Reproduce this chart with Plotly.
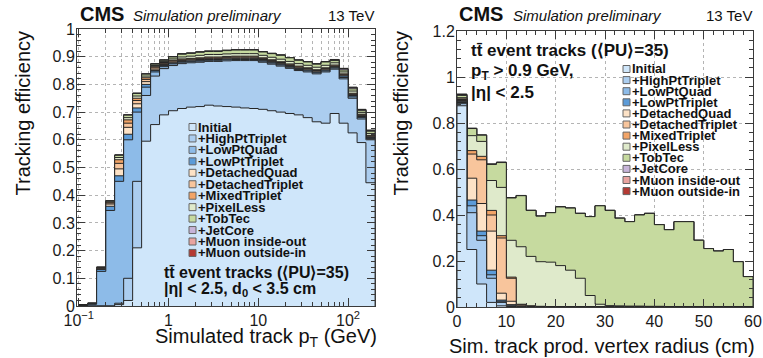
import plotly.graph_objects as go

W, H = 763, 358
FONT = "Liberation Sans, Arial, Helvetica, sans-serif"

ITERATIONS = ["Initial", "+HighPtTriplet", "+LowPtQuad", "+LowPtTriplet",
              "+DetachedQuad", "+DetachedTriplet", "+MixedTriplet", "+PixelLess",
              "+TobTec", "+JetCore", "+Muon inside-out", "+Muon outside-in"]
COLORS = ["#cfe6fa", "#abcdef", "#8dbbe8", "#5c9bd8",
          "#fde2c6", "#f8c59c", "#f2a467", "#dfeacb",
          "#c6da9f", "#c7b4d9", "#e9a4a0", "#b53a33"]

# ---------------- left panel: efficiency vs simulated pT ----------------
PT_EDGES = [0.1, 0.126, 0.158, 0.2, 0.251, 0.316, 0.398, 0.501, 0.631, 0.794,
            1.0, 1.26, 1.58, 2.0, 2.51, 3.16, 3.98, 5.01, 6.31, 7.94,
            10, 12.6, 15.8, 20, 25.1, 31.6, 39.8, 50.1, 63.1, 79.4,
            100, 126, 158, 200]
pt_initial = [0, 0, 0, 0, 0.005, 0.02, 0.21, 0.595, 0.655, 0.69, 0.705, 0.713, 0.718, 0.72, 0.725, 0.722,
              0.72, 0.718, 0.715, 0.713, 0.71, 0.705, 0.70, 0.695, 0.69, 0.68, 0.665, 0.66, 0.695, 0.66,
              0.625, 0.59, 0.445]
pt_highpt = [0, 0, 0, 0, 0.01, 0.1, 0.45, 0.76, 0.83, 0.857, 0.868, 0.875, 0.878, 0.88, 0.883, 0.883,
             0.885, 0.886, 0.886, 0.886, 0.88, 0.873, 0.866, 0.858, 0.85, 0.845, 0.838, 0.845, 0.855, 0.82,
             0.75, 0.675, 0.60]
pt_lowptquad = [0.002, 0.006, 0.125, 0.345, 0.45, 0.60, 0.70, 0.79, 0.845, 0.864, 0.874, 0.88, 0.882, 0.884, 0.887, 0.887,
                0.889, 0.89, 0.89, 0.89, 0.884, 0.877, 0.87, 0.862, 0.854, 0.849, 0.842, 0.849, 0.859, 0.825,
                0.755, 0.68, 0.605]
pt_lowpttriplet = [0.003, 0.008, 0.132, 0.36, 0.47, 0.62, 0.715, 0.80, 0.85, 0.868, 0.877, 0.883, 0.885, 0.887, 0.89, 0.89,
                   0.892, 0.893, 0.893, 0.893, 0.887, 0.88, 0.873, 0.865, 0.857, 0.852, 0.845, 0.852, 0.862, 0.83,
                   0.76, 0.684, 0.608]
pt_detachedquad = [0.003, 0.009, 0.135, 0.368, 0.495, 0.645, 0.73, 0.81, 0.855, 0.872, 0.88, 0.886, 0.888, 0.89, 0.893, 0.893,
                   0.895, 0.896, 0.896, 0.896, 0.89, 0.883, 0.876, 0.868, 0.86, 0.855, 0.848, 0.855, 0.865, 0.833,
                   0.763, 0.687, 0.611]
pt_detachedtriplet = [0.003, 0.009, 0.137, 0.372, 0.515, 0.66, 0.742, 0.818, 0.86, 0.876, 0.884, 0.889, 0.891, 0.893, 0.896, 0.896,
                      0.898, 0.899, 0.899, 0.899, 0.893, 0.886, 0.879, 0.871, 0.863, 0.857, 0.85, 0.857, 0.867, 0.835,
                      0.765, 0.689, 0.613]
pt_mixedtriplet = [0.004, 0.009, 0.138, 0.375, 0.528, 0.672, 0.75, 0.824, 0.864, 0.879, 0.887, 0.892, 0.894, 0.896, 0.899, 0.899,
                   0.901, 0.902, 0.902, 0.902, 0.896, 0.889, 0.882, 0.874, 0.866, 0.86, 0.853, 0.86, 0.87, 0.838,
                   0.768, 0.692, 0.616]
pt_pixelless = [0.004, 0.01, 0.139, 0.378, 0.536, 0.68, 0.758, 0.83, 0.868, 0.883, 0.892, 0.899, 0.902, 0.905, 0.908, 0.908,
                0.91, 0.911, 0.911, 0.911, 0.905, 0.898, 0.891, 0.883, 0.875, 0.869, 0.862, 0.869, 0.878, 0.845,
                0.776, 0.698, 0.623]
pt_tobtec = [0.004, 0.01, 0.14, 0.38, 0.544, 0.689, 0.767, 0.837, 0.873, 0.887, 0.899, 0.909, 0.912, 0.916, 0.919, 0.919,
             0.922, 0.924, 0.924, 0.924, 0.917, 0.911, 0.905, 0.896, 0.887, 0.881, 0.873, 0.881, 0.886, 0.852,
             0.784, 0.705, 0.631]
pt_jetcore = [0.004, 0.01, 0.14, 0.38, 0.545, 0.69, 0.768, 0.838, 0.874, 0.888, 0.9, 0.91, 0.913, 0.917, 0.92, 0.92,
              0.923, 0.925, 0.925, 0.925, 0.918, 0.912, 0.906, 0.897, 0.888, 0.882, 0.874, 0.882, 0.888, 0.856,
              0.788, 0.708, 0.633]
pt_muon_io = [0.004, 0.01, 0.14, 0.38, 0.545, 0.69, 0.768, 0.838, 0.874, 0.888, 0.9, 0.91, 0.913, 0.917, 0.92, 0.92,
              0.923, 0.925, 0.925, 0.925, 0.918, 0.912, 0.906, 0.897, 0.888, 0.882, 0.874, 0.882, 0.889, 0.857,
              0.789, 0.709, 0.634]
pt_muon_oi = [0.004, 0.01, 0.14, 0.38, 0.545, 0.69, 0.768, 0.838, 0.874, 0.888, 0.9, 0.91, 0.913, 0.917, 0.92, 0.92,
              0.923, 0.925, 0.925, 0.925, 0.918, 0.912, 0.906, 0.897, 0.888, 0.882, 0.874, 0.882, 0.89, 0.858,
              0.79, 0.71, 0.635]

# ---------------- right panel: efficiency vs production vertex radius ----------------
R_EDGES = [0, 2, 4, 6, 8, 10, 12, 14, 16, 18, 20, 22, 24, 26, 28, 30,
           32, 34, 36, 38, 40, 42, 44, 46, 48, 50, 52, 54, 56, 58, 60]
r_initial = [0.875, 0.25, 0.10, 0.02, 0.005, 0.002, 0, 0, 0, 0, 0, 0, 0, 0, 0,
             0, 0, 0, 0, 0, 0, 0, 0, 0, 0, 0, 0, 0, 0, 0]
r_highpt = [0.884, 0.41, 0.29, 0.125, 0.02, 0.005, 0.001, 0, 0, 0, 0, 0, 0, 0, 0,
            0, 0, 0, 0, 0, 0, 0, 0, 0, 0, 0, 0, 0, 0, 0]
r_lowptquad = [0.889, 0.44, 0.31, 0.14, 0.025, 0.008, 0.002, 0, 0, 0, 0, 0, 0, 0, 0,
               0, 0, 0, 0, 0, 0, 0, 0, 0, 0, 0, 0, 0, 0, 0]
r_lowpttriplet = [0.894, 0.465, 0.33, 0.16, 0.03, 0.01, 0.003, 0.001, 0, 0, 0, 0, 0, 0, 0,
                  0, 0, 0, 0, 0, 0, 0, 0, 0, 0, 0, 0, 0, 0, 0]
r_detachedquad = [0.898, 0.56, 0.45, 0.33, 0.06, 0.025, 0.005, 0.002, 0.001, 0.001, 0, 0, 0, 0, 0,
                  0, 0, 0, 0, 0, 0, 0, 0, 0, 0, 0, 0, 0, 0, 0]
r_detachedtriplet = [0.902, 0.665, 0.64, 0.40, 0.30, 0.125, 0.01, 0.004, 0.002, 0.002, 0.001, 0.001, 0, 0, 0,
                     0, 0, 0, 0, 0, 0, 0, 0, 0, 0, 0, 0, 0, 0, 0]
r_mixedtriplet = [0.905, 0.68, 0.655, 0.42, 0.31, 0.13, 0.012, 0.005, 0.003, 0.002, 0.002, 0.001, 0.001, 0.001, 0,
                  0, 0, 0, 0, 0, 0, 0, 0, 0, 0, 0, 0, 0, 0, 0]
r_pixelless = [0.91, 0.745, 0.72, 0.55, 0.52, 0.29, 0.262, 0.22, 0.197, 0.195, 0.18, 0.16, 0.125, 0.05, 0.012,
               0.006, 0.005, 0.004, 0.004, 0.003, 0.003, 0.002, 0.002, 0.002, 0.002, 0.001, 0.001, 0.001, 0.001, 0.001]
r_tobtec = [0.92, 0.776, 0.747, 0.62, 0.628, 0.474, 0.484, 0.42, 0.395, 0.41, 0.435, 0.43, 0.407, 0.393, 0.44,
            0.42, 0.386, 0.371, 0.40, 0.407, 0.358, 0.336, 0.371, 0.371, 0.29, 0.254, 0.243, 0.25, 0.197, 0.132]
r_jetcore = [0.922, 0.776, 0.747, 0.62, 0.628, 0.474, 0.484, 0.42, 0.395, 0.41, 0.435, 0.43, 0.407, 0.393, 0.44,
             0.42, 0.386, 0.371, 0.40, 0.407, 0.358, 0.336, 0.371, 0.371, 0.29, 0.254, 0.243, 0.25, 0.197, 0.132]
r_muon_io = [0.924, 0.777, 0.747, 0.621, 0.629, 0.475, 0.484, 0.42, 0.395, 0.41, 0.435, 0.43, 0.407, 0.393, 0.44,
             0.42, 0.386, 0.371, 0.40, 0.407, 0.358, 0.336, 0.371, 0.371, 0.29, 0.254, 0.243, 0.25, 0.197, 0.132]
r_muon_oi = [0.926, 0.777, 0.748, 0.622, 0.63, 0.475, 0.485, 0.42, 0.395, 0.41, 0.435, 0.43, 0.407, 0.393, 0.44,
             0.42, 0.386, 0.371, 0.40, 0.407, 0.358, 0.336, 0.371, 0.371, 0.29, 0.254, 0.243, 0.25, 0.197, 0.132]

PT_SERIES = [pt_initial, pt_highpt, pt_lowptquad, pt_lowpttriplet, pt_detachedquad, pt_detachedtriplet,
             pt_mixedtriplet, pt_pixelless, pt_tobtec, pt_jetcore, pt_muon_io, pt_muon_oi]
R_SERIES = [r_initial, r_highpt, r_lowptquad, r_lowpttriplet, r_detachedquad, r_detachedtriplet,
            r_mixedtriplet, r_pixelless, r_tobtec, r_jetcore, r_muon_io, r_muon_oi]


def px(x):
    return x / W


def py(y):
    return 1 - y / H


def step(edges, vals):
    xs = [edges[0]] + list(edges[:-1]) + [edges[-1], edges[-1]]
    ys = [0] + list(vals) + [vals[-1], 0]
    return xs, ys


fig = go.Figure()
# draw largest cumulative first, so each earlier iteration is painted on top
for i in reversed(range(len(ITERATIONS))):
    xs, ys = step(PT_EDGES, PT_SERIES[i])
    fig.add_trace(go.Scatter(x=xs, y=ys, mode="lines", line=dict(shape="hv", color="#262626", width=1),
                             fill="tozeroy", fillcolor=COLORS[i], name=ITERATIONS[i],
                             xaxis="x", yaxis="y", hoverinfo="skip"))
for i in reversed(range(len(ITERATIONS))):
    xs, ys = step(R_EDGES, R_SERIES[i])
    fig.add_trace(go.Scatter(x=xs, y=ys, mode="lines", line=dict(shape="hv", color="#262626", width=1),
                             fill="tozeroy", fillcolor=COLORS[i], name=ITERATIONS[i],
                             xaxis="x2", yaxis="y2", hoverinfo="skip"))

AX = dict(showline=True, linecolor="#3a3a3a", linewidth=1, mirror="allticks", ticks="inside",
          tickcolor="#3a3a3a", ticklen=8, tickwidth=1, automargin=False, zeroline=False,
          tickfont=dict(family=FONT, size=16, color="#1a1a1a"),
          gridcolor="#b4b4b4", griddash="dot", gridwidth=1, showgrid=True)

LOG_MINOR = [0.2, 0.3, 0.4, 0.5, 0.6, 0.7, 0.8, 0.9, 2, 3, 4, 5, 6, 7, 8, 9,
             20, 30, 40, 50, 60, 70, 80, 90, 200]

fig.update_layout(
    width=W, height=H, margin=dict(l=0, r=0, t=0, b=0),
    paper_bgcolor="white", plot_bgcolor="white", showlegend=False,
    xaxis=dict(AX, type="log", domain=[px(77), px(375)], range=[-1.02, 2.3],
               tickmode="array", tickvals=[0.1, 1, 10, 100],
               ticktext=["10<sup>\u22121</sup>", "1", "10", "10<sup>2</sup>"],
               minor=dict(tickmode="array", tickvals=LOG_MINOR, ticks="inside", ticklen=4,
                          tickcolor="#3a3a3a", showgrid=True, gridcolor="#b4b4b4", griddash="dot")),
    yaxis=dict(AX, domain=[py(306), py(29)], range=[0, 1], ticklabelstandoff=-2,
               tickmode="array", tickvals=[0, 0.1, 0.2, 0.3, 0.4, 0.5, 0.6, 0.7, 0.8, 0.9, 1],
               ticktext=["0", "0.1", "0.2", "0.3", "0.4", "0.5", "0.6", "0.7", "0.8", "0.9", "1"],
               minor=dict(dtick=0.02, tick0=0, ticks="inside", ticklen=4, tickcolor="#3a3a3a", showgrid=False)),
    xaxis2=dict(AX, anchor="y2", domain=[px(457), px(753)], range=[0, 60],
                tickmode="array", tickvals=[0, 10, 20, 30, 40, 50, 60],
                ticktext=["0", "10", "20", "30", "40", "50", "60"],
                minor=dict(dtick=2, tick0=0, ticks="inside", ticklen=4, tickcolor="#3a3a3a", showgrid=False)),
    yaxis2=dict(AX, anchor="x2", domain=[py(307), py(31)], range=[0, 1.2], ticklabelstandoff=-2,
                tickmode="array", tickvals=[0, 0.2, 0.4, 0.6, 0.8, 1, 1.2],
                ticktext=["0", "0.2", "0.4", "0.6", "0.8", "1", "1.2"],
                minor=dict(dtick=0.04, tick0=0, ticks="inside", ticklen=4, tickcolor="#3a3a3a", showgrid=False)),
)

ann = []
shapes = []


def text(x, y, s, size, xanchor="left", bold=False, italic=False, angle=0, yanchor="middle"):
    if bold:
        s = "<b>" + s + "</b>"
    if italic:
        s = "<i>" + s + "</i>"
    ann.append(dict(x=px(x), y=py(y), xref="paper", yref="paper", text=s, showarrow=False,
                    xanchor=xanchor, yanchor=yanchor, textangle=angle, borderpad=0,
                    font=dict(family=FONT, size=size, color="#111111")))


# headers
for x0, xs, xe in [(79, 132, 375), (458, 512, 753)]:
    text(x0, 14, "CMS", 20, bold=True)
    text(xs, 15, "Simulation preliminary", 15, italic=True)
    text(xe, 15, "13 TeV", 15, xanchor="right")

# axis titles
text(378, 337, "Simulated track p<sub>T</sub> (GeV)", 20, xanchor="right")
text(756, 346, "Sim. track prod. vertex radius (cm)", 20, xanchor="right")
text(23, 30, "Tracking efficiency", 20, xanchor="center", angle=-90, yanchor="top")
text(401, 30, "Tracking efficiency", 20, xanchor="center", angle=-90, yanchor="top")

# in-plot labels
text(163, 272, "tt\u0304 event tracks (\u27e8PU\u27e9=35)", 16, bold=True)
text(163, 289, "|\u03b7| < 2.5, d<sub>0</sub> < 3.5 cm", 16, bold=True)
text(470, 51, "tt\u0304 event tracks (\u27e8PU\u27e9=35)", 17, bold=True)
text(470, 72, "p<sub>T</sub> > 0.9 GeV,", 17, bold=True)
text(470, 92, "|\u03b7| < 2.5", 17, bold=True)

# legends
for (lx, ly0, dy) in [(189, 127, 11.45), (623, 69, 11.1)]:
    for i, name in enumerate(ITERATIONS):
        yc = ly0 + i * dy
        shapes.append(dict(type="rect", xref="paper", yref="paper",
                           x0=px(lx), x1=px(lx + 7), y0=py(yc + 3.5), y1=py(yc - 3.5),
                           fillcolor=COLORS[i], line=dict(color="#666666", width=1)))
        text(lx + 8, yc, name, 13, bold=True)

fig.update_layout(annotations=ann, shapes=shapes)
fig.write_html("out.html")
